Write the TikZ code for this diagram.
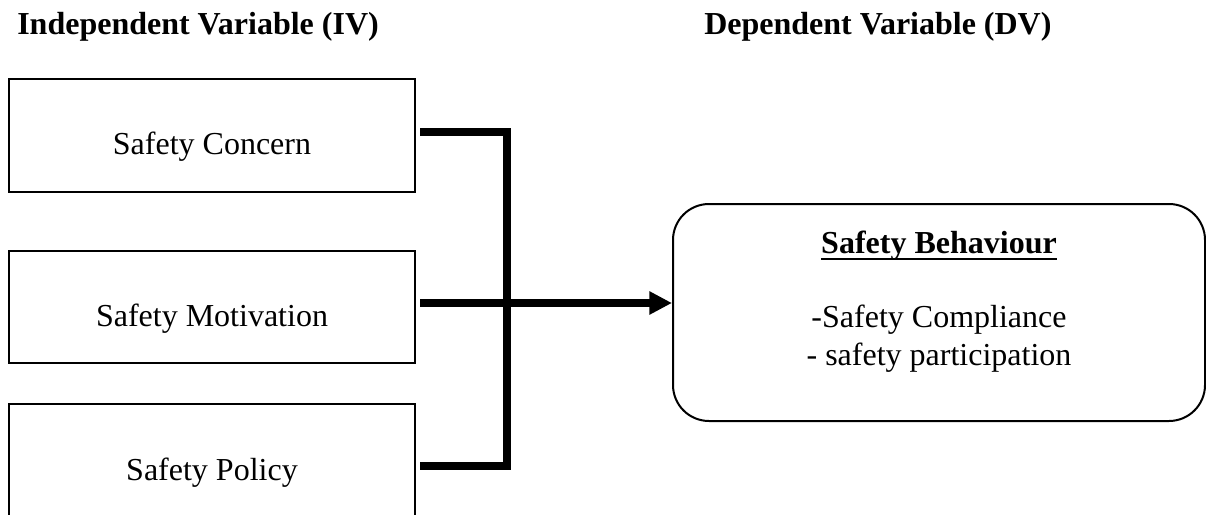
\documentclass[tikz,border=0pt]{standalone}
\usepackage{fontspec}
\setmainfont{Liberation Serif}
\usetikzlibrary{arrows.meta}
\newcommand\myul[1]{\setbox0\hbox{#1}\rlap{\rule[-5.25pt]{\wd0}{1.5pt}}\box0}
\begin{document}
\begin{tikzpicture}[x=0.75pt,y=-0.75pt,
  box/.style={draw, line width=1.5pt, inner sep=0pt, minimum width=304.5pt},
  txt/.style={font=\fontsize{24}{28.5}\selectfont, inner sep=0pt, anchor=base},
  head/.style={font=\fontsize{24}{28.5}\selectfont\bfseries, inner sep=0pt, anchor=base west},
  conn/.style={line width=6pt, line join=miter, line cap=butt}]
\clip (0,0) rectangle (1206,514);
% headings
\node[head] (hiv) at (17,34) {Independent Variable (IV)};
\node[head] (hdv) at (704,34) {Dependent Variable (DV)};
% left boxes
\node[box, minimum height=84.75pt] (b1) at (212,135.5) {};
\node[box, minimum height=84pt] (b2) at (212,306.5) {};
\node[box, minimum height=84.75pt] (b3) at (212,460.5) {};
\node[txt] (t1) at (212,154) {Safety Concern};
\node[txt] (t2) at (212,326) {Safety Motivation};
\node[txt] (t3) at (212,480) {Safety Policy};
% right box
\node[draw, line width=1.5pt, rounded corners=27pt, minimum width=399pt, minimum height=162.75pt, inner sep=0pt] (rb) at (939,312.5) {};
\node[txt, font=\fontsize{24}{28.5}\selectfont\bfseries] (r1) at (939,253) {\myul{Safety Behaviour}};
\node[txt] (r2) at (939,327) {-Safety Compliance};
\node[txt] (r3) at (939,365) {- safety participation};
% connectors
\coordinate (jt) at (507,132);
\coordinate (jm) at (507,303);
\coordinate (jb) at (507,466);
\draw[conn] ([xshift=3pt]b1.east |- jt) -- (jt) -- (jb) -- ([xshift=3pt]b3.east |- jb);
\draw[conn, -{Triangle[length=17pt,width=16.5pt]}] ([xshift=3pt]b2.east |- jm) -- (rb.west |- jm);
\end{tikzpicture}
\end{document}
